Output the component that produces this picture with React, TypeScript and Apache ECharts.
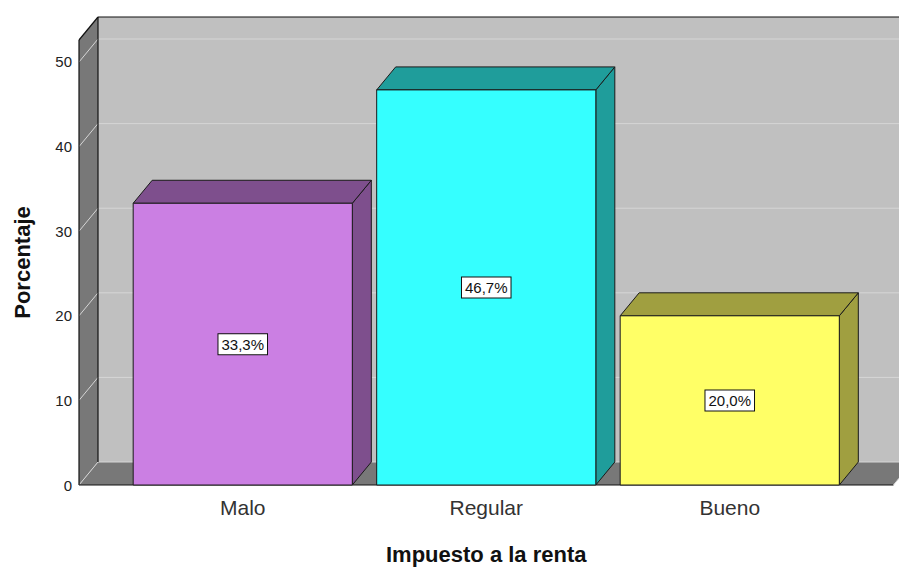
import React, { useEffect, useRef } from "react";
import * as echarts from "echarts";

const categories = ["Malo", "Regular", "Bueno"];
const values = [33.3, 46.7, 20.0];
const valueLabels = ["33,3%", "46,7%", "20,0%"];
const yTicks = [0, 10, 20, 30, 40, 50];
const yMax = 52.6;
const frontColors = ["#cb7fe3", "#35ffff", "#ffff66"];
const sideColors = ["#7e4f8d", "#1f9d9b", "#a09f40"];

const FONT = "'Liberation Sans', Arial, sans-serif";
const DX = 19;
const DY = -23;
const WALL_EXTRA = 42;

export default function App() {
  const ref = useRef<HTMLDivElement>(null);
  useEffect(() => {
    document.body.style.margin = "0";
    const chart = echarts.init(ref.current!, null, { renderer: "svg" });
    const frameRender = (params: any, api: any) => {
      const cs = params.coordSys;
      const L = cs.x - WALL_EXTRA;
      const R = cs.x + cs.width + WALL_EXTRA;
      const y0 = api.coord([0, 0])[1];
      const top = api.coord([0, yMax])[1];
      const children: any[] = [];
      children.push({
        type: "rect",
        shape: { x: L + DX, y: top + DY, width: R - L, height: y0 - top },
        style: { fill: "#c0c0c0" },
      });
      children.push({
        type: "polygon",
        shape: { points: [[L, top], [L + DX, top + DY], [L + DX, y0 + DY], [L, y0]] },
        style: { fill: "#787878" },
      });
      children.push({
        type: "polygon",
        shape: { points: [[L, y0], [L + DX, y0 + DY], [R + DX, y0 + DY], [R, y0]] },
        style: { fill: "#787878" },
      });
      yTicks.forEach((t) => {
        const y = api.coord([0, t])[1];
        children.push({
          type: "line",
          shape: { x1: L + DX, y1: y + DY, x2: R + DX, y2: y + DY },
          style: { stroke: "#d6d6d6", lineWidth: 1 },
        });
        children.push({
          type: "line",
          shape: { x1: L, y1: y, x2: L + DX, y2: y + DY },
          style: { stroke: "#d6d6d6", lineWidth: 1 },
        });
      });
      const blk = { stroke: "#111", lineWidth: 1.2 };
      children.push({ type: "line", shape: { x1: L, y1: top, x2: L, y2: y0 }, style: blk });
      children.push({ type: "line", shape: { x1: L, y1: top, x2: L + DX, y2: top + DY }, style: blk });
      children.push({ type: "line", shape: { x1: L + DX, y1: top + DY, x2: R + DX, y2: top + DY }, style: blk });
      children.push({ type: "line", shape: { x1: L + DX, y1: top + DY, x2: L + DX, y2: y0 + DY }, style: blk });
      children.push({ type: "line", shape: { x1: L, y1: y0, x2: R, y2: y0 }, style: blk });
      children.push({ type: "line", shape: { x1: R, y1: y0, x2: R + DX, y2: y0 + DY }, style: { stroke: "#dddddd", lineWidth: 1 } });
      return { type: "group", children };
    };

    const barRender = (params: any, api: any) => {
      const idx = api.value(0);
      const val = api.value(1);
      const p = api.coord([idx, val]);
      const b = api.coord([idx, 0]);
      const w = api.size([1, 0])[0] * 0.9;
      const x0 = p[0] - w / 2;
      const x1 = p[0] + w / 2;
      const t = p[1];
      const base = b[1];
      const i = params.dataIndex;
      const stroke = { stroke: "#1a1a1a", lineWidth: 1 };
      return {
        type: "group",
        children: [
          {
            type: "polygon",
            shape: { points: [[x1, t], [x1 + DX, t + DY], [x1 + DX, base + DY], [x1, base]] },
            style: { fill: sideColors[i], ...stroke },
          },
          {
            type: "polygon",
            shape: { points: [[x0, t], [x0 + DX, t + DY], [x1 + DX, t + DY], [x1, t]] },
            style: { fill: sideColors[i], ...stroke },
          },
          {
            type: "rect",
            shape: { x: x0, y: t, width: w, height: base - t },
            style: { fill: frontColors[i], ...stroke },
          },
          {
            type: "text",
            x: p[0],
            y: (t + base) / 2,
            style: {
              text: valueLabels[i],
              fill: "#111",
              font: `15px ${FONT}`,
              align: "center",
              verticalAlign: "middle",
              backgroundColor: "#ffffff",
              borderColor: "#111",
              borderWidth: 1,
              padding: [3, 3, 2, 3],
            },
          },
        ],
      };
    };

    chart.setOption({
      animation: false,
      backgroundColor: "#ffffff",
      grid: { left: 121, right: 47.5, top: 40, bottom: 82, containLabel: false },
      xAxis: {
        type: "category",
        data: categories,
        axisLine: { show: false },
        axisTick: { show: false },
        axisLabel: { fontSize: 21, color: "#333", margin: 12, fontFamily: FONT },
        name: "Impuesto a la renta",
        nameLocation: "middle",
        nameGap: 58,
        nameTextStyle: { fontSize: 22, fontWeight: "bold", color: "#111", fontFamily: FONT },
      },
      yAxis: {
        type: "value",
        min: 0,
        max: yMax,
        interval: 10,
        axisLine: { show: false },
        axisTick: { show: false },
        splitLine: { show: false },
        axisLabel: {
          fontSize: 15,
          color: "#222",
          margin: 49,
          fontFamily: FONT,
          formatter: (v: number) => (yTicks.includes(v) ? String(v) : ""),
        },
        name: "Porcentaje",
        nameLocation: "middle",
        nameGap: 88,
        nameTextStyle: { fontSize: 22, fontWeight: "bold", color: "#111", fontFamily: FONT },
      },
      series: [
        {
          type: "custom",
          renderItem: frameRender,
          data: [[0, 0]],
          encode: { x: 0, y: 1 },
          z: 1,
          silent: true,
        },
        {
          type: "custom",
          renderItem: barRender,
          data: categories.map((c, i) => [i, values[i]]),
          encode: { x: 0, y: 1 },
          z: 2,
        },
      ],
    });
    return () => chart.dispose();
  }, []);
  return <div ref={ref} style={{ width: 899, height: 570 }} />;
}
